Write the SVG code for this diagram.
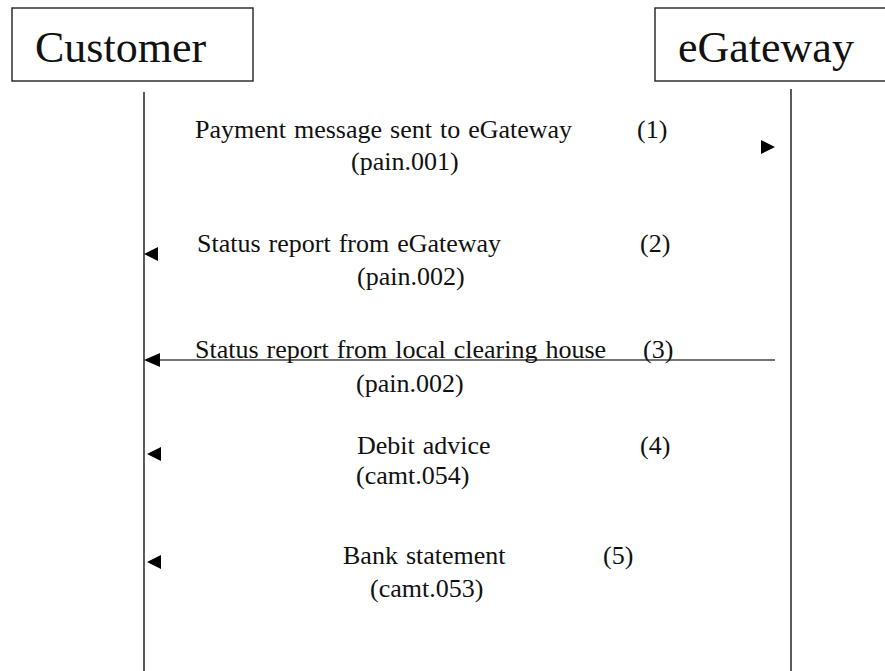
<svg xmlns="http://www.w3.org/2000/svg" width="885" height="671" viewBox="0 0 885 671">
<style>
.box{fill:#fff;stroke:#222;stroke-width:1.4}
.head{font-family:'Liberation Serif',Tinos,'Times New Roman','DejaVu Serif',serif;font-size:44px;fill:#111}
.lbl{font-family:'Liberation Serif',Tinos,'Times New Roman','DejaVu Serif',serif;font-size:26px;word-spacing:1.5px;fill:#111}
.life{stroke:#333;stroke-width:1.6;fill:none}
.msg{stroke:#444;stroke-width:1.6;fill:none}
.tri{fill:#000}
</style>
<rect width="885" height="671" fill="#fff"/>
<g id="customer">
<rect class="box" x="12" y="8" width="241" height="73"/>
<text class="head" x="35" y="62">Customer</text>
</g>
<g id="egateway">
<rect class="box" x="655" y="8" width="250" height="73"/>
<text class="head" x="678" y="62">eGateway</text>
</g>
<g id="lifelines">
<line class="life" x1="144" y1="92" x2="144" y2="671"/>
<line class="life" x1="791" y1="89" x2="791" y2="671"/>
</g>
<g id="connectors">
<path class="tri" d="M775,147 L761,140 L761,154 Z"/>
<path class="tri" d="M144,254 L158,247 L158,261 Z"/>
<line class="msg" x1="150" y1="360" x2="775" y2="360"/>
<path class="tri" d="M144,360 L160,353 L160,367 Z"/>
<path class="tri" d="M147,454 L161,447 L161,461 Z"/>
<path class="tri" d="M147,562 L161,555 L161,569 Z"/>
</g>
<g id="labels">
<text class="lbl" x="195" y="138">Payment message sent to eGateway</text>
<text class="lbl" x="637" y="138">(1)</text>
<text class="lbl" x="351" y="170">(pain.001)</text>
<text class="lbl" x="197" y="252">Status report from eGateway</text>
<text class="lbl" x="640" y="252">(2)</text>
<text class="lbl" x="357" y="285">(pain.002)</text>
<text class="lbl" x="195" y="358">Status report from local clearing house</text>
<text class="lbl" x="643" y="358">(3)</text>
<text class="lbl" x="356" y="392">(pain.002)</text>
<text class="lbl" x="357" y="454">Debit advice</text>
<text class="lbl" x="640" y="454">(4)</text>
<text class="lbl" x="356" y="484">(camt.054)</text>
<text class="lbl" x="343" y="564">Bank statement</text>
<text class="lbl" x="603" y="564">(5)</text>
<text class="lbl" x="370" y="597">(camt.053)</text>
</g>
</svg>
